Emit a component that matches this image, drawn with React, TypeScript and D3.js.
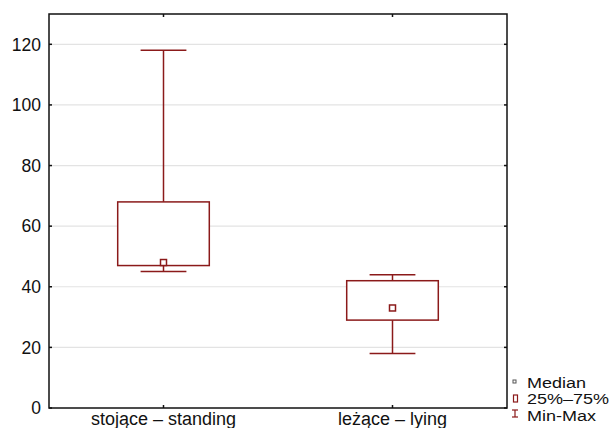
import * as d3 from 'd3'

const categories = ['stojące – standing', 'leżące – lying']
const minValues = [45, 18]
const q1Values = [47, 29]
const medianValues = [48, 33]
const q3Values = [68, 42]
const maxValues = [118, 44]
const yTicks = [0, 20, 40, 60, 80, 100, 120]
const legendLabels = ['Median', '25%–75%', 'Min-Max']

const W = 613
const H = 428
const M = { left: 49, right: 106, top: 14, bottom: 20 }
const RED = '#8b1a1a'
const FONT = 'Arial, "Liberation Sans", sans-serif'

export default function App() {
  const x = d3
    .scaleBand<string>()
    .domain(categories)
    .range([M.left, W - M.right])
  const y = d3
    .scaleLinear()
    .domain([0, 130])
    .range([H - M.bottom, M.top])

  const bw = x.bandwidth()
  const boxW = bw * 0.4
  const capW = bw * 0.2
  const x0 = M.left
  const x1 = W - M.right
  const y0 = y(0)
  const y1 = y(130)

  // legend text is a bit wide, like the original export
  const legendText = (label: string, baseline: number) => (
    <text
      transform={`translate(527, ${baseline}) scale(1.2, 1)`}
      fontSize={15}
      fill="#111"
    >
      {label}
    </text>
  )

  return (
    <svg
      width={W}
      height={H}
      style={{ position: 'absolute', left: 0, top: 0, background: '#fff' }}
      fontFamily={FONT}
    >
      {/* grid */}
      {yTicks.slice(1).map((t) => (
        <line key={'g' + t} x1={x0} x2={x1} y1={y(t)} y2={y(t)} stroke="#e3e3e3" strokeWidth={1.2} />
      ))}

      {/* boxes */}
      {categories.map((c, i) => {
        const cx = x(c)! + bw / 2
        return (
          <g key={c} stroke={RED} strokeWidth={1.5} fill="none">
            <line x1={cx} x2={cx} y1={y(maxValues[i])} y2={y(q3Values[i])} />
            <line x1={cx} x2={cx} y1={y(q1Values[i])} y2={y(minValues[i])} />
            <line x1={cx - capW / 2} x2={cx + capW / 2} y1={y(maxValues[i])} y2={y(maxValues[i])} />
            <line x1={cx - capW / 2} x2={cx + capW / 2} y1={y(minValues[i])} y2={y(minValues[i])} />
            <rect
              x={cx - boxW / 2}
              y={y(q3Values[i])}
              width={boxW}
              height={y(q1Values[i]) - y(q3Values[i])}
              fill="#fff"
            />
            <rect x={cx - 3} y={y(medianValues[i]) - 3} width={6} height={6} fill="#fff" />
          </g>
        )
      })}

      {/* frame */}
      <rect x={x0} y={y1} width={x1 - x0} height={y0 - y1} fill="none" stroke="#111" strokeWidth={1.5} />

      {/* y ticks */}
      {yTicks.map((t) => (
        <g key={'t' + t}>
          <line x1={x0} x2={x0 + 3} y1={y(t)} y2={y(t)} stroke="#111" strokeWidth={1.5} />
          <line x1={x1 - 3} x2={x1} y1={y(t)} y2={y(t)} stroke="#111" strokeWidth={1.5} />
          <text x={x0 - 8} y={y(t)} dy="0.36em" textAnchor="end" fontSize={17.5} fill="#111">
            {t}
          </text>
        </g>
      ))}

      {/* x ticks */}
      {categories.map((c) => {
        const cx = x(c)! + bw / 2
        return (
          <g key={'x' + c}>
            <line x1={cx} x2={cx} y1={y0} y2={y0 - 3} stroke="#111" strokeWidth={1.5} />
            <line x1={cx} x2={cx} y1={y1} y2={y1 + 3} stroke="#111" strokeWidth={1.5} />
            <text x={cx} y={y0 + 17} textAnchor="middle" fontSize={18} fill="#111">
              {c}
            </text>
          </g>
        )
      })}

      {/* legend */}
      <rect x={513} y={380} width={3} height={3} fill="none" stroke="#555" strokeWidth={1} />
      {legendText(legendLabels[0], 388)}
      <rect x={513.5} y={395} width={4} height={7} fill="none" stroke={RED} strokeWidth={1.2} />
      {legendText(legendLabels[1], 404)}
      <g stroke={RED} strokeWidth={1.2}>
        <line x1={512} x2={518} y1={410} y2={410} />
        <line x1={512} x2={518} y1={417} y2={417} />
        <line x1={515} x2={515} y1={410} y2={417} />
      </g>
      {legendText(legendLabels[2], 421)}
    </svg>
  )
}
